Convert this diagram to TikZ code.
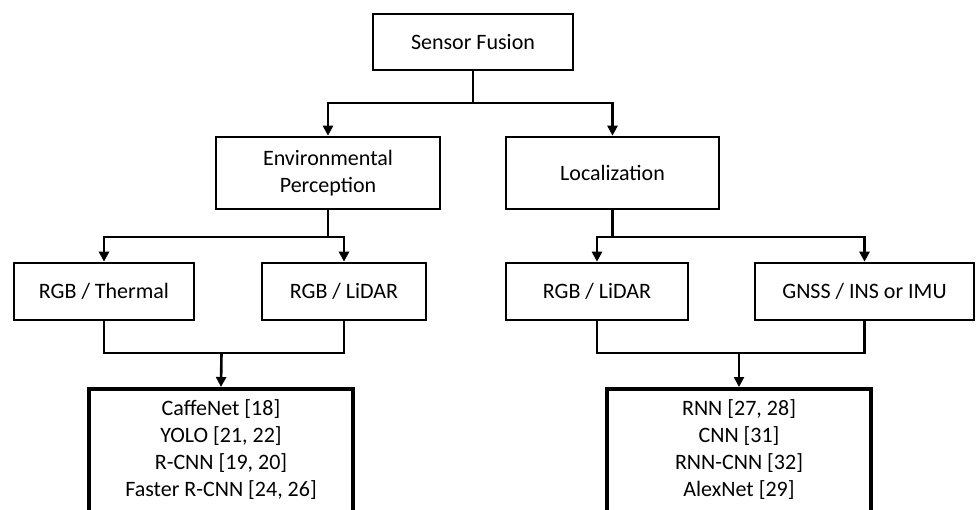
\documentclass[tikz,border=0pt]{standalone}
\usepackage{fontspec}
\setmainfont{Carlito}
\usetikzlibrary{arrows.meta}
\tikzset{
  box/.style={draw, line width=2.6pt, rectangle, inner sep=0pt, align=center,
              font=\fontsize{22}{27}\selectfont},
  bigbox/.style={box, line width=4.4pt},
  link/.style={line width=2.6pt},
  arr/.style={link, -{Triangle[length=10pt,width=10pt]}}
}
\begin{document}
\begin{tikzpicture}[x=1pt, y=-1pt]
  \useasboundingbox (0,0) rectangle (976,510);
  \clip (0,0) rectangle (976,510);
  \fill[white] (0,0) rectangle (976,510);

  % top level
  \node[box, minimum width=200pt, minimum height=56pt] (sf) at (473,42) {Sensor Fusion};

  % second level
  \node[box, minimum width=224pt, minimum height=72pt] (ep) at (328,173) {Environmental\\Perception};
  \node[box, minimum width=213pt, minimum height=72pt] (loc) at (612.5,173) {Localization};

  % sensor pairs
  \node[box, minimum width=180pt, minimum height=57pt] (rt)  at (104,291.5) {RGB / Thermal};
  \node[box, minimum width=164pt, minimum height=57pt] (rl1) at (344,291.5) {RGB / LiDAR};
  \node[box, minimum width=182pt, minimum height=57pt] (rl2) at (597,291.5) {RGB / LiDAR};
  \node[box, minimum width=219pt, minimum height=57pt] (gn)  at (864.5,291.5) {GNSS / INS or IMU};

  % method lists (running off the lower edge)
  \node[bigbox, minimum width=264pt, minimum height=133pt, anchor=north] (b1) at (221,387) {};
  \node[bigbox, minimum width=264pt, minimum height=133pt, anchor=north] (b2) at (739,387) {};
  \node[font=\fontsize{22}{27}\selectfont, align=center, anchor=north, inner sep=0pt] (t1) at (221,399)
    {CaffeNet [18]\\YOLO [21, 22]\\R-CNN [19, 20]\\Faster R-CNN [24, 26]};
  \node[font=\fontsize{22}{27}\selectfont, align=center, anchor=north, inner sep=0pt] (t2) at (739,399)
    {RNN [27, 28]\\CNN [31]\\RNN-CNN [32]\\AlexNet [29]};

  % junction points
  \coordinate (j0) at (473,103);
  \coordinate (j1) at (328,237);
  \coordinate (j2) at (612.5,237);
  \coordinate (m1) at (221.5,353);
  \coordinate (m2) at (739,353);

  % connectors
  \draw[link] (sf.south) -- (j0);
  \draw[arr] (j0) -| (ep.north);
  \draw[arr] (j0) -| (loc.north);

  \draw[link] (ep.south) -- (j1);
  \draw[arr] (j1) -| (rt.north);
  \draw[arr] (j1) -| (rl1.north);

  \draw[link] (loc.south) -- (j2);
  \draw[arr] (j2) -| (rl2.north);
  \draw[arr] (j2) -| (gn.north);

  \draw[link] (rt.south) |- (m1) -| (rl1.south);
  \draw[arr] (m1) -- (b1.north);
  \draw[link] (rl2.south) |- (m2) -| (gn.south);
  \draw[arr] (m2) -- (b2.north);
\end{tikzpicture}
\end{document}
